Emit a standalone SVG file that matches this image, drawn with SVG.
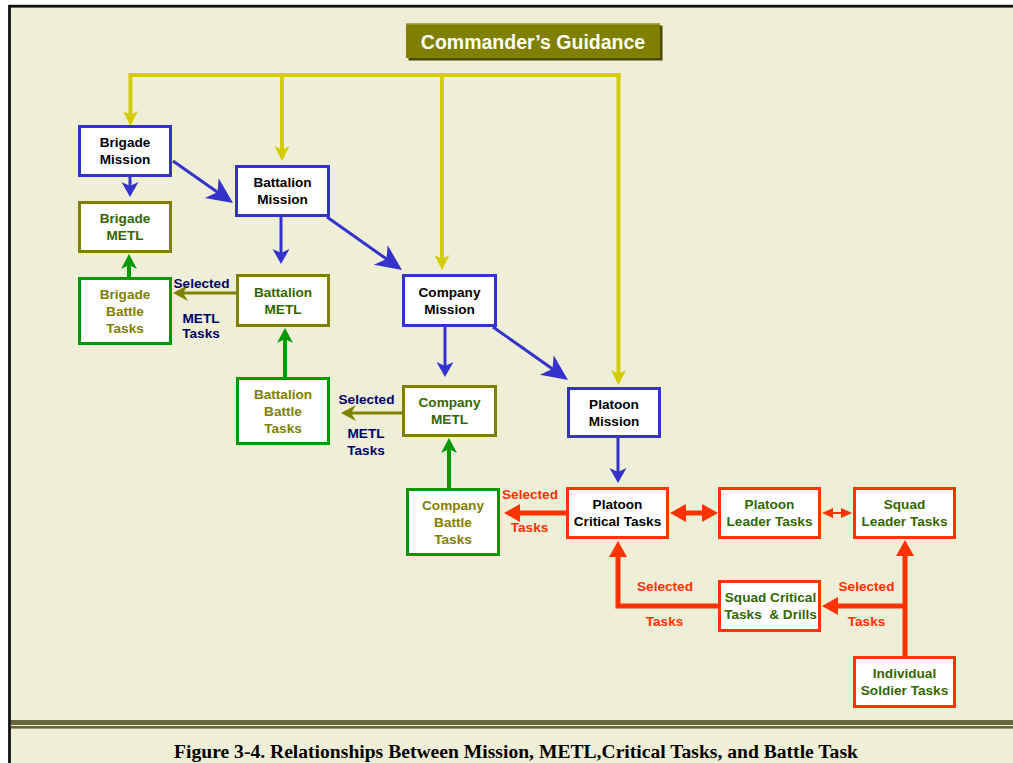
<svg xmlns="http://www.w3.org/2000/svg" width="1013" height="763" viewBox="0 0 1013 763">
  <style>
    .box { fill: #ffffff; stroke-width: 3; }
    .blue { stroke: #3333cc; }
    .olive { stroke: #808000; }
    .green { stroke: #009900; }
    .red { stroke: #ff3300; }
    text { font-family: "Liberation Sans", Arial, sans-serif; font-weight: bold; font-size: 13.6px; text-anchor: middle; }
    .t-mission { fill: #000000; }
    .t-metl { fill: #336600; }
    .t-battle { fill: #808000; }
    .t-navy { fill: #000066; }
    .t-red { fill: #ff3300; }
    .c-yellow { stroke: #d4cc00; stroke-width: 4; fill: none; }
    .c-blue { stroke: #3333cc; stroke-width: 3; fill: none; }
    .c-green { stroke: #009900; stroke-width: 4; fill: none; }
    .c-olive { stroke: #808000; stroke-width: 3; fill: none; }
    .c-red { stroke: #ff3300; stroke-width: 5; fill: none; }
    .c-red-thin { stroke: #ff3300; stroke-width: 2; fill: none; }
  </style>
  <defs>
    <marker id="ah-yellow" markerUnits="userSpaceOnUse" orient="auto" viewBox="0 -10 20 20" markerWidth="20" markerHeight="20" refX="5" refY="0" overflow="visible">
      <path d="M0,-7.5 L15,0 L0,7.5 L4,0 Z" fill="#d4cc00"/>
    </marker>
    <marker id="ah-blue" markerUnits="userSpaceOnUse" orient="auto" viewBox="0 -10 20 20" markerWidth="20" markerHeight="20" refX="5" refY="0" overflow="visible">
      <path d="M0,-8.5 L15,0 L0,8.5 L4,0 Z" fill="#3333cc"/>
    </marker>
    <marker id="ah-blue-lg" markerUnits="userSpaceOnUse" orient="auto" viewBox="0 -14 30 28" markerWidth="30" markerHeight="28" refX="8" refY="0" overflow="visible">
      <path d="M0,-12 L26,0 L0,12 L7,0 Z" fill="#3333cc"/>
    </marker>
    <marker id="ah-green" markerUnits="userSpaceOnUse" orient="auto" viewBox="0 -10 20 20" markerWidth="20" markerHeight="20" refX="5" refY="0" overflow="visible">
      <path d="M0,-8 L15,0 L0,8 L4,0 Z" fill="#009900"/>
    </marker>
    <marker id="ah-olive" markerUnits="userSpaceOnUse" orient="auto" viewBox="0 -10 20 20" markerWidth="20" markerHeight="20" refX="6" refY="0" overflow="visible">
      <path d="M0,-8 L15,0 L0,8 L5,0 Z" fill="#808000"/>
    </marker>
    <marker id="ah-red" markerUnits="userSpaceOnUse" orient="auto-start-reverse" viewBox="0 -10 20 20" markerWidth="20" markerHeight="20" refX="2" refY="0" overflow="visible">
      <path d="M0,-9 L16,0 L0,9 Z" fill="#ff3300"/>
    </marker>
    <marker id="ah-red-sm" markerUnits="userSpaceOnUse" orient="auto-start-reverse" viewBox="0 -6 12 12" markerWidth="12" markerHeight="12" refX="2" refY="0" overflow="visible">
      <path d="M0,-5 L11,0 L0,5 Z" fill="#ff3300"/>
    </marker>
  </defs>

  <!-- page frame -->
  <rect x="0" y="0" width="1013" height="763" fill="#ffffff"/>
  <rect x="9.5" y="6.2" width="1012" height="770" fill="#efeed6" stroke="#111111" stroke-width="2.8"/>
  <rect x="11" y="720" width="1002" height="5" fill="#66663a"/>
  <rect x="11" y="726" width="1002" height="2.6" fill="#66663a"/>

  <!-- title banner -->
  <g id="commanders-guidance">
    <rect x="408.5" y="25.5" width="254" height="35" fill="#4a4a00"/>
    <rect x="406" y="23" width="254" height="35" fill="#808000"/>
    <rect x="406" y="23" width="254" height="1.6" fill="#a5a55a"/>
    <text x="533" y="49" style="font-size:19.5px; fill:#ffffff;">Commander’s Guidance</text>
  </g>

  <!-- connectors -->
  <g id="connectors">
    <!-- guidance distribution -->
    <line class="c-yellow" x1="128.5" y1="75" x2="620.5" y2="75"/>
    <line class="c-yellow" x1="130.5" y1="75" x2="130.5" y2="116" marker-end="url(#ah-yellow)"/>
    <line class="c-yellow" x1="282" y1="75" x2="282" y2="151" marker-end="url(#ah-yellow)"/>
    <line class="c-yellow" x1="442" y1="75" x2="442" y2="260" marker-end="url(#ah-yellow)"/>
    <line class="c-yellow" x1="618.5" y1="75" x2="618.5" y2="375" marker-end="url(#ah-yellow)"/>

    <!-- mission flow -->
    <line class="c-blue" x1="130" y1="177" x2="130" y2="187" marker-end="url(#ah-blue)"/>
    <line class="c-blue" x1="173" y1="161" x2="218.3" y2="192.7" marker-end="url(#ah-blue-lg)"/>
    <line class="c-blue" x1="281" y1="217" x2="281" y2="254" marker-end="url(#ah-blue)"/>
    <line class="c-blue" x1="327" y1="217" x2="387.3" y2="259.6" marker-end="url(#ah-blue-lg)"/>
    <line class="c-blue" x1="445" y1="327" x2="445" y2="367" marker-end="url(#ah-blue)"/>
    <line class="c-blue" x1="493" y1="327" x2="553.3" y2="369.6" marker-end="url(#ah-blue-lg)"/>
    <line class="c-blue" x1="618" y1="438" x2="618" y2="473" marker-end="url(#ah-blue)"/>

    <!-- battle tasks up to METL -->
    <line class="c-green" x1="129" y1="277" x2="129" y2="264" marker-end="url(#ah-green)"/>
    <line class="c-green" x1="285" y1="377" x2="285" y2="338" marker-end="url(#ah-green)"/>
    <line class="c-green" x1="449" y1="488" x2="449" y2="448" marker-end="url(#ah-green)"/>

    <!-- selected METL tasks -->
    <line class="c-olive" x1="236" y1="293" x2="182" y2="293" marker-end="url(#ah-olive)"/>
    <line class="c-olive" x1="402" y1="413" x2="350" y2="413" marker-end="url(#ah-olive)"/>

    <!-- critical task flow -->
    <line class="c-red" x1="567" y1="513" x2="518" y2="513" marker-end="url(#ah-red)"/>
    <line class="c-red" x1="684" y1="513" x2="704" y2="513" marker-start="url(#ah-red)" marker-end="url(#ah-red)"/>
    <line class="c-red-thin" x1="831" y1="513" x2="843" y2="513" marker-start="url(#ah-red-sm)" marker-end="url(#ah-red-sm)"/>
    <path class="c-red" d="M718,606 H618 V555" stroke-linejoin="miter" marker-end="url(#ah-red)"/>
    <line class="c-red" x1="905" y1="656" x2="905" y2="554" marker-end="url(#ah-red)"/>
    <line class="c-red" x1="905" y1="606" x2="836" y2="606" marker-end="url(#ah-red)"/>
  </g>

  <!-- connector labels -->
  <g id="labels">
    <text class="t-navy" x="201.5" y="288">Selected</text>
    <text class="t-navy" x="201" y="323">METL</text>
    <text class="t-navy" x="201" y="338">Tasks</text>
    <text class="t-navy" x="366.5" y="404">Selected</text>
    <text class="t-navy" x="366" y="438">METL</text>
    <text class="t-navy" x="366" y="455">Tasks</text>
    <text class="t-red" x="530" y="499">Selected</text>
    <text class="t-red" x="529.5" y="532">Tasks</text>
    <text class="t-red" x="665" y="591">Selected</text>
    <text class="t-red" x="664.5" y="626">Tasks</text>
    <text class="t-red" x="866.5" y="591">Selected</text>
    <text class="t-red" x="866.5" y="626">Tasks</text>
  </g>

  <!-- brigade -->
  <g id="brigade-mission">
    <rect class="box blue" x="79.5" y="126.5" width="91" height="49"/>
    <text class="t-mission" x="125" y="147.3">Brigade</text>
    <text class="t-mission" x="125" y="164.3">Mission</text>
  </g>
  <g id="brigade-metl">
    <rect class="box olive" x="79.5" y="202.5" width="91" height="49"/>
    <text class="t-metl" x="125" y="223.3">Brigade</text>
    <text class="t-metl" x="125" y="240.3">METL</text>
  </g>
  <g id="brigade-battle-tasks">
    <rect class="box green" x="79.5" y="278.5" width="91" height="65"/>
    <text class="t-battle" x="125" y="299.1">Brigade</text>
    <text class="t-battle" x="125" y="315.8">Battle</text>
    <text class="t-battle" x="125" y="332.5">Tasks</text>
  </g>

  <!-- battalion -->
  <g id="battalion-mission">
    <rect class="box blue" x="236.5" y="166.5" width="92" height="49"/>
    <text class="t-mission" x="282.5" y="187.3">Battalion</text>
    <text class="t-mission" x="282.5" y="204.3">Mission</text>
  </g>
  <g id="battalion-metl">
    <rect class="box olive" x="237.5" y="275.5" width="91" height="50"/>
    <text class="t-metl" x="283" y="296.8">Battalion</text>
    <text class="t-metl" x="283" y="313.8">METL</text>
  </g>
  <g id="battalion-battle-tasks">
    <rect class="box green" x="237.5" y="378.5" width="91" height="65"/>
    <text class="t-battle" x="283" y="399.1">Battalion</text>
    <text class="t-battle" x="283" y="415.8">Battle</text>
    <text class="t-battle" x="283" y="432.5">Tasks</text>
  </g>

  <!-- company -->
  <g id="company-mission">
    <rect class="box blue" x="403.5" y="275.5" width="92" height="50"/>
    <text class="t-mission" x="449.5" y="296.8">Company</text>
    <text class="t-mission" x="449.5" y="313.8">Mission</text>
  </g>
  <g id="company-metl">
    <rect class="box olive" x="403.5" y="386.5" width="92" height="49"/>
    <text class="t-metl" x="449.5" y="407.3">Company</text>
    <text class="t-metl" x="449.5" y="424.3">METL</text>
  </g>
  <g id="company-battle-tasks">
    <rect class="box green" x="407.5" y="489.5" width="91" height="65"/>
    <text class="t-battle" x="453" y="510.1">Company</text>
    <text class="t-battle" x="453" y="526.8">Battle</text>
    <text class="t-battle" x="453" y="543.5">Tasks</text>
  </g>

  <!-- platoon and squad -->
  <g id="platoon-mission">
    <rect class="box blue" x="568.5" y="388.5" width="91" height="48"/>
    <text class="t-mission" x="614" y="408.8">Platoon</text>
    <text class="t-mission" x="614" y="425.8">Mission</text>
  </g>
  <g id="platoon-critical-tasks">
    <rect class="box red" x="567.5" y="488.5" width="100" height="49"/>
    <text class="t-mission" x="617.5" y="509.3">Platoon</text>
    <text class="t-mission" x="617.5" y="526.3">Critical Tasks</text>
  </g>
  <g id="platoon-leader-tasks">
    <rect class="box red" x="719.5" y="488.5" width="100" height="49"/>
    <text class="t-metl" x="769.5" y="509.3">Platoon</text>
    <text class="t-metl" x="769.5" y="526.3">Leader Tasks</text>
  </g>
  <g id="squad-leader-tasks">
    <rect class="box red" x="854.5" y="488.5" width="100" height="49"/>
    <text class="t-metl" x="904.5" y="509.3">Squad</text>
    <text class="t-metl" x="904.5" y="526.3">Leader Tasks</text>
  </g>
  <g id="squad-critical-tasks">
    <rect class="box red" x="719.5" y="581.5" width="100" height="49"/>
    <text class="t-metl" x="770.5" y="602.3">Squad Critical</text>
    <text class="t-metl" x="770.5" y="619.3" xml:space="preserve">Tasks  &amp; Drills</text>
  </g>
  <g id="individual-soldier-tasks">
    <rect class="box red" x="854.5" y="657.5" width="100" height="49"/>
    <text class="t-metl" x="904.5" y="678.3">Individual</text>
    <text class="t-metl" x="904.5" y="695.3">Soldier Tasks</text>
  </g>

  <!-- caption -->
  <text x="516" y="758" style="font-family:'Liberation Serif','Times New Roman',serif; font-size:19.6px; fill:#000000;">Figure 3-4. Relationships Between Mission, METL,Critical Tasks, and Battle Task</text>
</svg>
